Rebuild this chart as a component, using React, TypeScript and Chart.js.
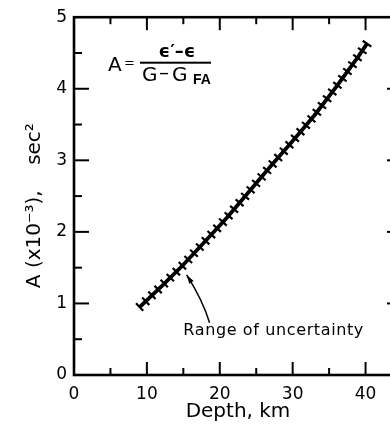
import { useEffect, useRef } from "react";
import { Chart, registerables } from "chart.js";

Chart.register(...registerables);

// ---- data ----
const depthKm = [9, 12, 15, 18, 21, 24, 27, 30, 33, 36, 39, 40.2];
const aValues = [0.95, 1.24, 1.54, 1.87, 2.2, 2.56, 2.92, 3.27, 3.63, 4.03, 4.45, 4.63];
const xTickValues = [0, 10, 20, 30, 40];
const yTickValues = [0, 1, 2, 3, 4, 5];
const xMajorMarks = [10, 20, 30, 40];
const xMinorMarks = [5, 15, 25, 35];
const yMajorMarks = [1, 2, 3, 4];
const yMinorMarks = [0.5, 1.5, 2.5, 3.5, 4.5];
const xTitle = "Depth, km";
const yTitle = "A (x10\u207B\u00B3),    sec\u00B2   ";
const noteText = "Range of uncertainty";

const FONT = "'DejaVu Sans', 'Liberation Sans', sans-serif";

const decorPlugin = {
  id: "decor",
  afterDatasetsDraw(chart: any) {
    const { ctx } = chart;
    const meta = chart.getDatasetMeta(0);
    const pts = meta.data.map((p: any) => ({ x: p.x, y: p.y }));
    const segs: any[] = [];
    let total = 0;
    for (let i = 1; i < pts.length; i++) {
      const a = pts[i - 1];
      const b = pts[i];
      const len = Math.hypot(b.x - a.x, b.y - a.y);
      segs.push({ a, b, len, start: total });
      total += len;
    }
    const n = Math.round(total / 8.6);
    const step = total / n;
    ctx.save();
    ctx.strokeStyle = "#000";
    ctx.lineWidth = 2.2;
    let si = 0;
    for (let k = 0; k <= n; k++) {
      const s = Math.min(k * step, total - 0.001);
      while (si < segs.length - 1 && s > segs[si].start + segs[si].len) si++;
      const g = segs[si];
      const t = (s - g.start) / g.len;
      const px = g.a.x + (g.b.x - g.a.x) * t;
      const py = g.a.y + (g.b.y - g.a.y) * t;
      const ux = (g.b.x - g.a.x) / g.len;
      const uy = (g.b.y - g.a.y) / g.len;
      const nx = -uy;
      const ny = ux;
      const h = 5.2;
      ctx.beginPath();
      ctx.moveTo(px - nx * h, py - ny * h);
      ctx.lineTo(px + nx * h, py + ny * h);
      ctx.stroke();
    }
    ctx.restore();
  },
  afterDraw(chart: any) {
    const { ctx, chartArea } = chart;
    const { left, right, top, bottom } = chartArea;
    const xs = chart.scales.x;
    const ys = chart.scales.y;
    ctx.save();
    // frame
    ctx.strokeStyle = "#000";
    ctx.lineWidth = 2.6;
    ctx.strokeRect(left, top, right - left, bottom - top);
    // inward ticks
    ctx.lineWidth = 2;
    const line = (x1: number, y1: number, x2: number, y2: number) => {
      ctx.beginPath();
      ctx.moveTo(x1, y1);
      ctx.lineTo(x2, y2);
      ctx.stroke();
    };
    xMajorMarks.forEach((v) => {
      const px = xs.getPixelForValue(v);
      line(px, bottom, px, bottom - 13);
      line(px, top, px, top + 13);
    });
    xMinorMarks.forEach((v) => {
      const px = xs.getPixelForValue(v);
      line(px, bottom, px, bottom - 7);
      line(px, top, px, top + 7);
    });
    yMajorMarks.forEach((v) => {
      const py = ys.getPixelForValue(v);
      line(left, py, left + 15, py);
      line(right, py, right - 15, py);
    });
    yMinorMarks.forEach((v) => {
      const py = ys.getPixelForValue(v);
      line(left, py, left + 8, py);
      line(right, py, right - 8, py);
    });

    // formula
    ctx.fillStyle = "#000";
    ctx.textBaseline = "alphabetic";
    ctx.textAlign = "left";
    ctx.font = `20px ${FONT}`;
    ctx.fillText("A", left + 34, top + 54);
    ctx.font = `13px ${FONT}`;
    ctx.fillText("=", left + 50, top + 50);
    ctx.fillRect(left + 66, top + 44.5, 71, 2);
    ctx.font = `bold 18px ${FONT}`;
    ctx.textAlign = "center";
    ctx.fillText("\u03F5\u2032\u2013\u03F5", left + 103, top + 40);
    ctx.textAlign = "left";
    ctx.font = `20px ${FONT}`;
    ctx.fillText("G", left + 68, top + 64);
    ctx.fillText("\u2013", left + 85, top + 62);
    ctx.fillText("G", left + 98, top + 64);
    ctx.font = `bold 14px 'Liberation Sans', ${FONT}`;
    ctx.fillText("FA", left + 119, top + 67);

    // arrow annotation (data coordinates)
    const tail = { x: xs.getPixelForValue(18.6), y: ys.getPixelForValue(0.73) };
    const ctrl = { x: xs.getPixelForValue(17.7), y: ys.getPixelForValue(1.04) };
    const tip = { x: xs.getPixelForValue(15.45), y: ys.getPixelForValue(1.4) };
    ctx.lineWidth = 1.5;
    ctx.beginPath();
    ctx.moveTo(tail.x, tail.y);
    ctx.quadraticCurveTo(ctrl.x, ctrl.y, tip.x, tip.y);
    ctx.stroke();
    const dx = tip.x - ctrl.x;
    const dy = tip.y - ctrl.y;
    const dl = Math.hypot(dx, dy);
    const ux = dx / dl;
    const uy = dy / dl;
    const hl = 9;
    const hw = 2.6;
    ctx.beginPath();
    ctx.moveTo(tip.x, tip.y);
    ctx.lineTo(tip.x - ux * hl - uy * hw, tip.y - uy * hl + ux * hw);
    ctx.lineTo(tip.x - ux * hl + uy * hw, tip.y - uy * hl - ux * hw);
    ctx.closePath();
    ctx.fill();

    // note text
    ctx.font = `16px ${FONT}`;
    const w = ctx.measureText(noteText).width;
    const ls = (180 - w) / (noteText.length - 1);
    (ctx as any).letterSpacing = `${ls}px`;
    ctx.fillText(noteText, xs.getPixelForValue(15.0), ys.getPixelForValue(0.565));
    ctx.restore();
  },
};

export default function App() {
  const ref = useRef<HTMLCanvasElement>(null);
  useEffect(() => {
    const canvas = ref.current;
    if (!canvas) return;
    const chart = new Chart(canvas, {
      type: "line",
      data: {
        datasets: [
          {
            data: depthKm.map((x, i) => ({ x, y: aValues[i] })),
            borderColor: "#000",
            borderWidth: 3.8,
            pointRadius: 0,
            tension: 0,
            fill: false,
          },
        ],
      },
      options: {
        animation: false,
        responsive: false,
        maintainAspectRatio: false,
        layout: { padding: { top: 13, right: 18, left: 0, bottom: 0 } },
        plugins: { legend: { display: false }, tooltip: { enabled: false } },
        scales: {
          x: {
            type: "linear",
            min: 0,
            max: 45,
            afterBuildTicks: (s: any) => {
              s.ticks = xTickValues.map((v) => ({ value: v }));
            },
            afterFit: (s: any) => {
              s.height = 51;
            },
            grid: { display: false, drawTicks: false },
            border: { display: false },
            ticks: {
              color: "#000",
              font: { family: FONT, size: 17 },
              padding: 9,
              maxRotation: 0,
              autoSkip: false,
            },
            title: {
              display: true,
              text: xTitle,
              color: "#000",
              font: { family: FONT, size: 20 },
              padding: { top: 0, bottom: 2 },
            },
          },
          y: {
            type: "linear",
            min: 0,
            max: 5,
            afterBuildTicks: (s: any) => {
              s.ticks = yTickValues.map((v) => ({ value: v }));
            },
            afterFit: (s: any) => {
              s.width = 74;
            },
            grid: { display: false, drawTicks: false },
            border: { display: false },
            ticks: {
              color: "#000",
              font: { family: FONT, size: 17 },
              padding: 7,
            },
            title: {
              display: true,
              text: yTitle,
              color: "#000",
              font: { family: FONT, size: 20 },
              padding: { top: 23, bottom: 0 },
            },
          },
        },
      },
      plugins: [decorPlugin],
    } as any);
    return () => chart.destroy();
  }, []);
  return (
    <div
      style={{
        position: "fixed",
        left: 0,
        top: 0,
        width: 390,
        height: 426,
        overflow: "hidden",
        background: "#fff",
      }}
    >
      <canvas ref={ref} width={420} height={426} style={{ display: "block", width: 420, height: 426 }} />
    </div>
  );
}
